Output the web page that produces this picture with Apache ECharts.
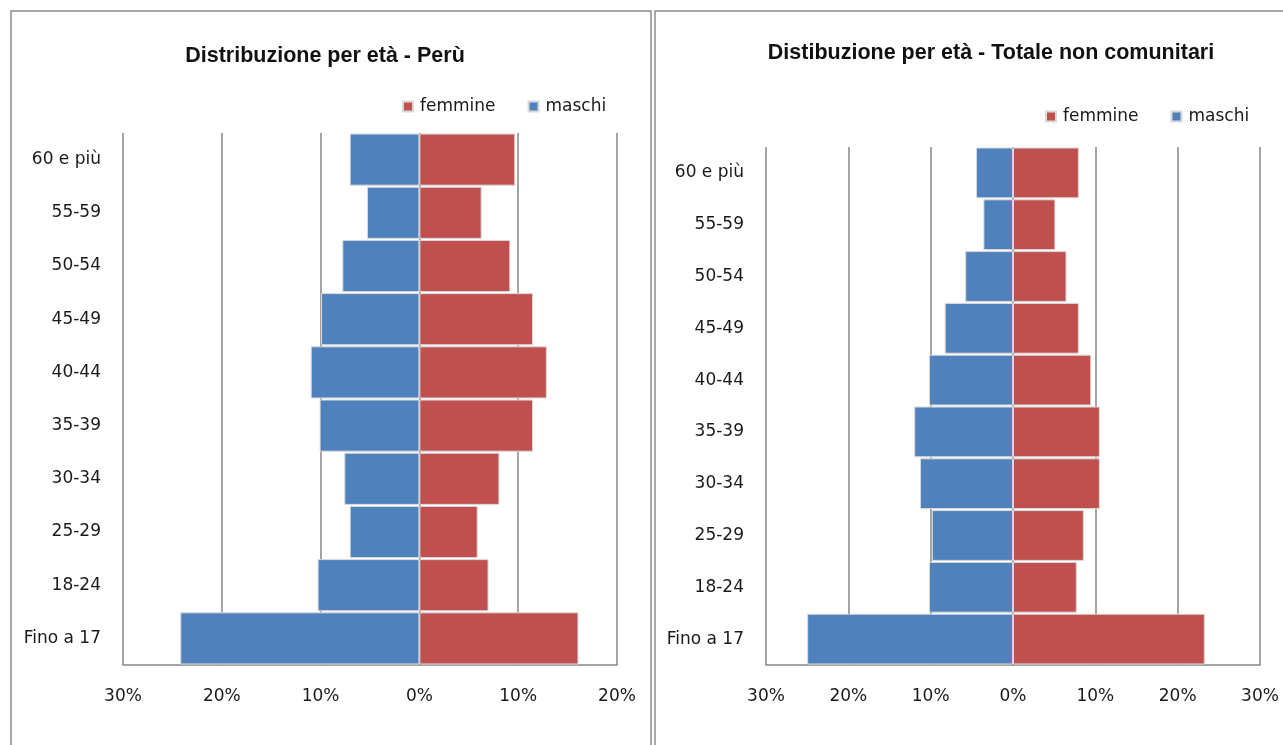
<!DOCTYPE html>
<html>
<head>
<meta charset="utf-8">
<script src="https://cdn.jsdelivr.net/npm/echarts@6/dist/echarts.min.js"></script>
<style>
html,body{margin:0;padding:0;background:#fff;}
#c{width:1283px;height:745px;}
</style>
</head>
<body>
<div id="c"></div>
<script>
// categories from bottom to top
const categories = ['Fino a 17','18-24','25-29','30-34','35-39','40-44','45-49','50-54','55-59','60 e più'];
// Perù (%)
const peruFemmine = [16.1, 7.0, 5.9, 8.1, 11.5, 12.9, 11.5, 9.2, 6.3, 9.7];
const peruMaschi  = [24.2, 10.3, 7.05, 7.6, 10.1, 11.0, 9.95, 7.8, 5.3, 7.05];
// Totale non comunitari (%)
const totFemmine = [23.3, 7.75, 8.6, 10.55, 10.55, 9.5, 8.0, 6.5, 5.15, 8.0];
const totMaschi  = [25.0, 10.2, 9.85, 11.3, 12.0, 10.2, 8.3, 5.8, 3.6, 4.5];
const titles = ['Distribuzione per età - Perù', 'Distibuzione per età - Totale non comunitari'];
const seriesNames = ['femmine', 'maschi'];

const RED = '#C0504D', BLUE = '#4F81BD';
const labelFont = "'DejaVu Sans', sans-serif";
const titleFont = "'Liberation Sans Narrow', 'Arial Narrow', 'Liberation Sans', sans-serif";

const chart = echarts.init(document.getElementById('c'));

function xAxisCfg(gridIndex, min, max) {
  return {
    type: 'value', gridIndex, min, max, interval: 10,
    axisLine: { show: true, lineStyle: { color: '#868686', width: 1.5 } },
    axisTick: { show: false },
    splitLine: { show: true, lineStyle: { color: '#868686', width: 1.5 } },
    axisLabel: {
      formatter: v => Math.abs(v) + '%',
      color: '#1a1a1a', fontFamily: labelFont, fontSize: 17, margin: 23
    }
  };
}
function yAxisCfg(gridIndex) {
  return {
    type: 'category', gridIndex, data: categories,
    axisLine: { show: false }, axisTick: { show: false },
    axisLabel: { color: '#1a1a1a', fontFamily: labelFont, fontSize: 17, margin: 22 }
  };
}
function barSeries(name, data, idx, color, neg) {
  return {
    name, type: 'bar', stack: 'p' + idx, xAxisIndex: idx, yAxisIndex: idx,
    data: neg ? data.map(v => -v) : data,
    barCategoryGap: '2%',
    itemStyle: { color, borderColor: '#d9d9d9', borderWidth: 1 },
    emphasis: { disabled: true }
  };
}
function legendCfg(left, top) {
  return {
    data: seriesNames, left, top, icon: 'rect', itemWidth: 10, itemHeight: 10, itemGap: 32,
    textStyle: { fontFamily: labelFont, fontSize: 17, color: '#1a1a1a', padding: [0, 0, 0, 2] }
  };
}

chart.setOption({
  animation: false,
  backgroundColor: '#fff',
  title: [
    { text: titles[0], left: 320, top: 40, textAlign: 'center',
      textStyle: { fontFamily: titleFont, fontWeight: 'bold', fontSize: 21.5, color: '#111' } },
    { text: titles[1], left: 986, top: 37, textAlign: 'center',
      textStyle: { fontFamily: titleFont, fontWeight: 'bold', fontSize: 21.5, color: '#111' } }
  ],
  legend: [legendCfg(397, 93), legendCfg(1040, 103)],
  grid: [
    { left: 123, width: 494, top: 133, height: 532 },
    { left: 766, width: 494, top: 147, height: 518 }
  ],
  xAxis: [xAxisCfg(0, -30, 20), xAxisCfg(1, -30, 30)],
  yAxis: [yAxisCfg(0), yAxisCfg(1)],
  series: [
    barSeries('femmine', peruFemmine, 0, RED, false),
    barSeries('maschi', peruMaschi, 0, BLUE, true),
    barSeries('femmine', totFemmine, 1, RED, false),
    barSeries('maschi', totMaschi, 1, BLUE, true)
  ],
  graphic: [
    { type: 'rect', shape: { x: 11, y: 11, width: 640, height: 780 }, silent: true,
      style: { fill: 'none', stroke: '#8c8c8c', lineWidth: 1.5 } },
    { type: 'rect', shape: { x: 655, y: 11, width: 640, height: 780 }, silent: true,
      style: { fill: 'none', stroke: '#8c8c8c', lineWidth: 1.5 } }
  ]
});
</script>
</body>
</html>
